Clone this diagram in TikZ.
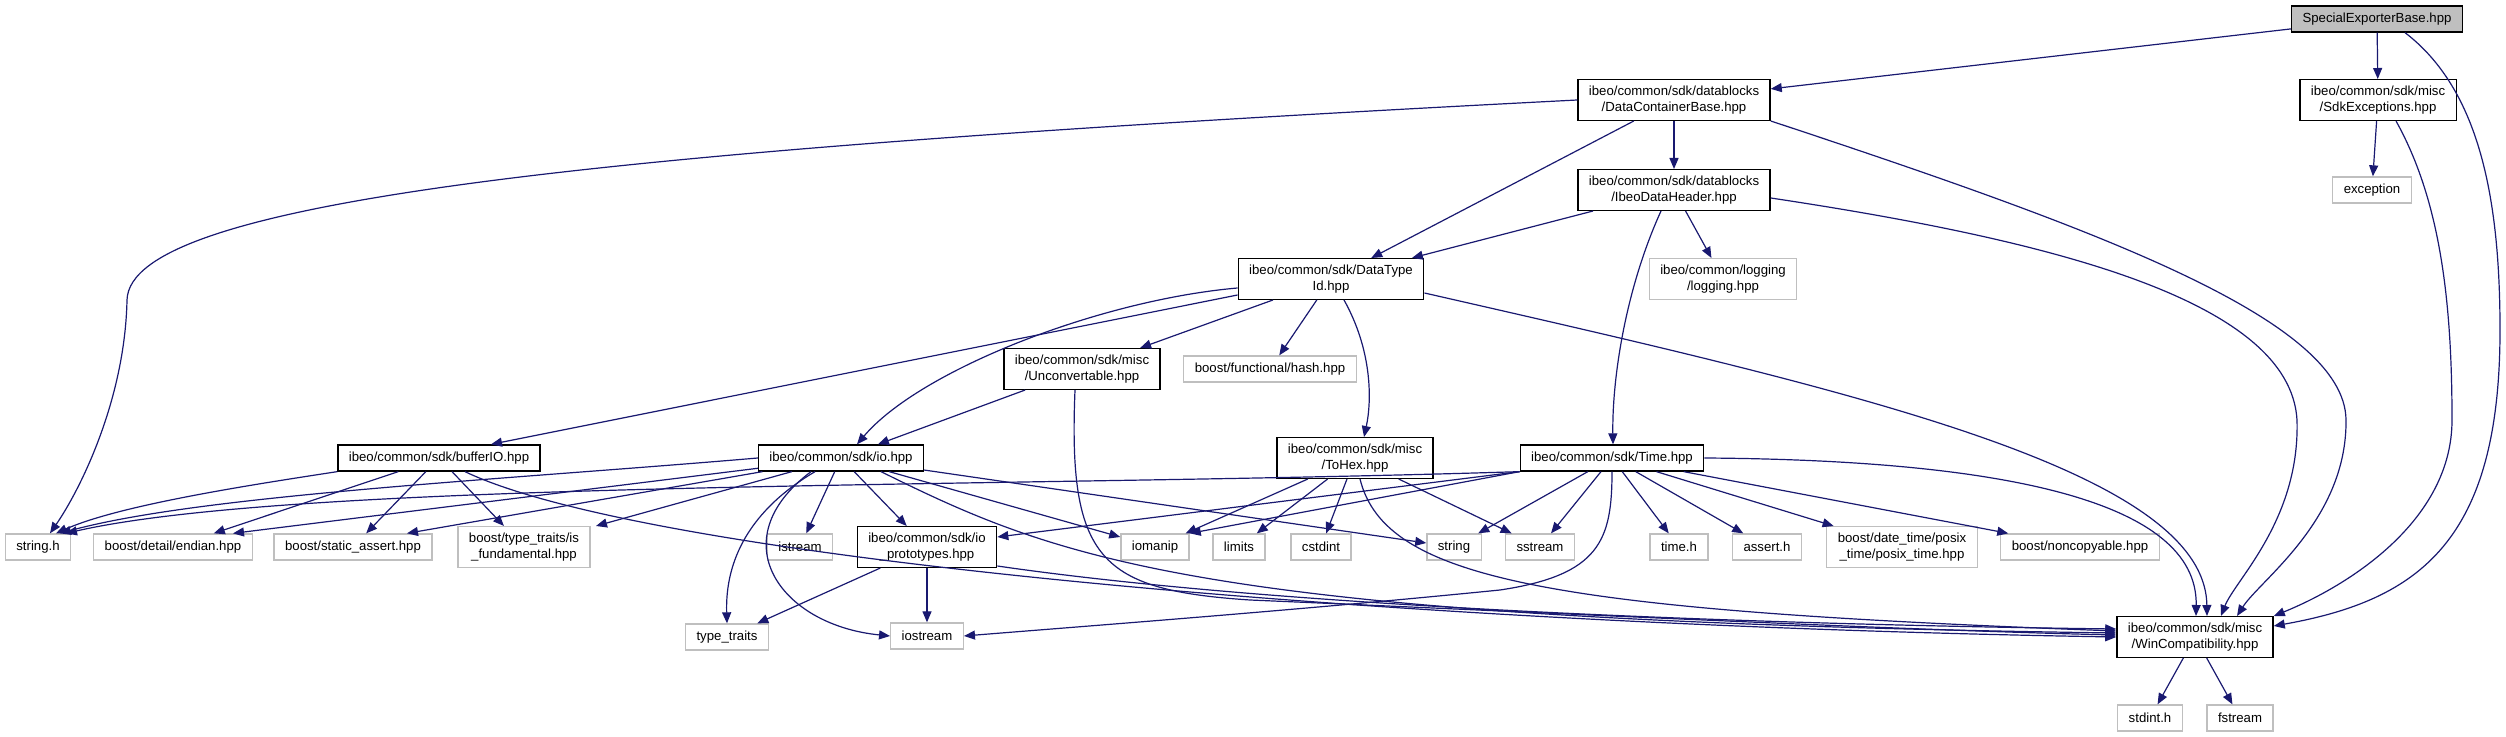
\documentclass[tikz,border=0pt]{standalone}
\usepackage{fontspec}
\setmainfont{Liberation Sans}
\usepackage{tikz}
\usetikzlibrary{arrows.meta}
\definecolor{dxblue}{HTML}{191970}
\definecolor{dxgray}{HTML}{BFBFBF}
\tikzset{
  incarrow/.style={-{Triangle[length=5.5pt,width=4.5pt]}, line width=0.6pt, draw=dxblue},
  hdrbox/.style={draw=black, line width=0.65pt, fill=white, align=center,
    inner xsep=5.5pt, inner ysep=3.3pt, minimum height=13pt,
    font=\fontsize{6.6pt}{7.6pt}\selectfont},
  sysbox/.style={hdrbox, draw=dxgray},
  rootbox/.style={hdrbox, fill=dxgray}
}
\begin{document}
\begin{tikzpicture}[x=0.5pt,y=-0.5pt]
        \useasboundingbox (0,0) rectangle (2506,737);
        \node[rootbox] (root) at (2377,19) {SpecialExporterBase.hpp};
        \node[hdrbox] (dcb) at (1674,100) {ibeo/common/sdk/datablocks\\/DataContainerBase.hpp};
        \node[hdrbox] (sdkexc) at (2378,100) {ibeo/common/sdk/misc\\/SdkExceptions.hpp};
        \node[sysbox] (exc) at (2372,190) {exception};
        \node[hdrbox] (idh) at (1674,190) {ibeo/common/sdk/datablocks\\/IbeoDataHeader.hpp};
        \node[hdrbox] (dtid) at (1331,279) {ibeo/common/sdk/DataType\\Id.hpp};
        \node[sysbox] (logging) at (1723,279) {ibeo/common/logging\\/logging.hpp};
        \node[hdrbox] (unconv) at (1082,369) {ibeo/common/sdk/misc\\/Unconvertable.hpp};
        \node[sysbox] (hash) at (1270,369) {boost/functional/hash.hpp};
        \node[hdrbox] (bufio) at (439,458) {ibeo/common/sdk/bufferIO.hpp};
        \node[hdrbox] (io) at (841,458) {ibeo/common/sdk/io.hpp};
        \node[hdrbox] (tohex) at (1355,458) {ibeo/common/sdk/misc\\/ToHex.hpp};
        \node[hdrbox] (time) at (1612,458) {ibeo/common/sdk/Time.hpp};
        \node[sysbox] (stringh) at (38,547) {string.h};
        \node[sysbox] (endian) at (173,547) {boost/detail/endian.hpp};
        \node[sysbox] (sassert) at (353,547) {boost/static\_assert.hpp};
        \node[sysbox] (isfund) at (524,547) {boost/type\_traits/is\\\_fundamental.hpp};
        \node[sysbox] (istream) at (800,547) {istream};
        \node[hdrbox] (ioproto) at (927,547) {ibeo/common/sdk/io\\\_prototypes.hpp};
        \node[sysbox] (iomanip) at (1155,547) {iomanip};
        \node[sysbox] (limits) at (1239,547) {limits};
        \node[sysbox] (cstdint) at (1321,547) {cstdint};
        \node[sysbox] (string) at (1454,547) {string};
        \node[sysbox] (sstream) at (1540,547) {sstream};
        \node[sysbox] (timeh) at (1679,547) {time.h};
        \node[sysbox] (asserth) at (1767,547) {assert.h};
        \node[sysbox] (datetime) at (1902,547) {boost/date\_time/posix\\\_time/posix\_time.hpp};
        \node[sysbox] (noncopy) at (2080,547) {boost/noncopyable.hpp};
        \node[sysbox] (typetraits) at (727,637) {type\_traits};
        \node[sysbox] (iostream) at (927,636) {iostream};
        \node[hdrbox] (wincompat) at (2195,637) {ibeo/common/sdk/misc\\/WinCompatibility.hpp};
        \node[sysbox] (stdinth) at (2150,718) {stdint.h};
        \node[sysbox] (fstream) at (2240,718) {fstream};

        \draw[incarrow] (root) -- (dcb);
        \draw[incarrow] (root) -- (sdkexc);
        \draw[incarrow] ([xshift=14pt]root.south) .. controls (2480,90) and (2500,200) .. (2500,330)
            .. controls (2500,540) and (2420,600) .. ([yshift=-5pt]wincompat.north east);
        \draw[incarrow] (sdkexc) -- (exc);
        \draw[incarrow] ([xshift=9pt]sdkexc.south) .. controls (2440,200) and (2452,300) .. (2452,420)
            .. controls (2452,520) and (2350,585) .. (wincompat.north east);
        \draw[incarrow] (dcb) -- (idh);
        \draw[incarrow] (dcb) -- (dtid);
        \draw[incarrow] (dcb.west) .. controls (600,150) and (130,200) .. (127,300)
            .. controls (125,400) and (80,490) .. ([xshift=6pt]stringh.north);
        \draw[incarrow] (dcb.south east) .. controls (2100,230) and (2345,320) .. (2346,420)
            .. controls (2347,520) and (2260,580) .. ([xshift=21pt]wincompat.north);
        \draw[incarrow] (idh) -- (dtid);
        \draw[incarrow] (idh) -- (logging);
        \draw[incarrow] ([xshift=-6.5pt]idh.south) .. controls (1625,290) and (1612,380) .. ([xshift=0.5pt]time.north);
        \draw[incarrow] ([yshift=-4pt]idh.east) .. controls (2050,240) and (2290,300) .. (2297,420)
            .. controls (2300,520) and (2235,580) .. ([xshift=13pt]wincompat.north);
        \draw[incarrow] (dtid) -- (unconv);
        \draw[incarrow] (dtid) -- (hash);
        \draw[incarrow] ([xshift=6.5pt]dtid.south) .. controls (1372,350) and (1372,400) .. ([xshift=4.5pt]tohex.north);
        \draw[incarrow] ([yshift=-4.5pt]dtid.west) .. controls (1100,300) and (920,370) .. ([xshift=8pt]io.north);
        \draw[incarrow] ([yshift=-8pt]dtid.west) -- ([xshift=26pt]bufio.north);
        \draw[incarrow] ([yshift=-7pt]dtid.east) .. controls (1850,390) and (2205,470) .. ([xshift=6pt]wincompat.north);
        \draw[incarrow] (unconv) -- (io);
        \draw[incarrow] ([xshift=-3.5pt]unconv.south) .. controls (1068,560) and (1100,590) .. (1250,600)
            .. controls (1600,615) and (1900,630) .. ([yshift=1pt]wincompat.west);
        \draw[incarrow] (bufio.south west) .. controls (250,485) and (120,505) .. ([xshift=9pt]stringh.north);
        \draw[incarrow] (bufio) -- (endian);
        \draw[incarrow] (bufio) -- (sassert);
        \draw[incarrow] (bufio) -- (isfund);
        \draw[incarrow] ([xshift=13pt]bufio.south) .. controls (650,560) and (1400,625) .. ([yshift=0pt]wincompat.west);
        \draw[incarrow] (io.west) .. controls (500,480) and (200,495) .. ([xshift=11pt]stringh.north);
        \draw[incarrow] (io) -- ([xshift=30pt]endian.north);
        \draw[incarrow] (io) -- ([xshift=27pt]sassert.north);
        \draw[incarrow] (io) -- ([xshift=36pt]isfund.north);
        \draw[incarrow] (io) -- (istream);
        \draw[incarrow] (io) -- (ioproto);
        \draw[incarrow] (io) -- ([yshift=5pt]iomanip.west);
        \draw[incarrow] (io) -- ([yshift=2pt]string.west);
        \draw[incarrow] ([xshift=-13pt]io.south) .. controls (750,510) and (725,560) .. (typetraits.north);
        \draw[incarrow] ([xshift=-15pt]io.south) .. controls (720,540) and (780,625) .. (iostream.west);
        \draw[incarrow] ([xshift=20pt]io.south) .. controls (1060,560) and (1200,620) .. ([yshift=2pt]wincompat.west);
        \draw[incarrow] (tohex) -- (iomanip);
        \draw[incarrow] (tohex) -- (limits);
        \draw[incarrow] (tohex) -- (cstdint);
        \draw[incarrow] (tohex) -- (sstream);
        \draw[incarrow] ([xshift=2.5pt]tohex.south) .. controls (1385,580) and (1550,610) .. ([yshift=3pt]wincompat.west);
        \draw[incarrow] (time.south west) .. controls (1000,488) and (300,480) .. ([xshift=14pt]stringh.north);
        \draw[incarrow] (time.south west) -- ([yshift=5pt]ioproto.east);
        \draw[incarrow] (time.south west) -- (iomanip.north east);
        \draw[incarrow] (time) -- (string);
        \draw[incarrow] (time) -- (sstream);
        \draw[incarrow] (time) -- (timeh);
        \draw[incarrow] (time) -- (asserth);
        \draw[incarrow] (time) -- (datetime);
        \draw[incarrow] (time) -- (noncopy);
        \draw[incarrow] (time.south) .. controls (1612,540) and (1600,575) .. (1500,590)
            .. controls (1300,610) and (1100,625) .. (iostream.east);
        \draw[incarrow] (time.east) .. controls (2000,460) and (2198,500) .. ([xshift=0.5pt]wincompat.north);
        \draw[incarrow] (ioproto) -- (typetraits);
        \draw[incarrow] (ioproto) -- (iostream);
        \draw[incarrow] ([yshift=1pt]ioproto.south east) .. controls (1300,610) and (1800,625) .. ([yshift=4pt]wincompat.west);
        \draw[incarrow] (wincompat) -- (stdinth);
        \draw[incarrow] (wincompat) -- (fstream);
    \end{tikzpicture}
\end{document}
